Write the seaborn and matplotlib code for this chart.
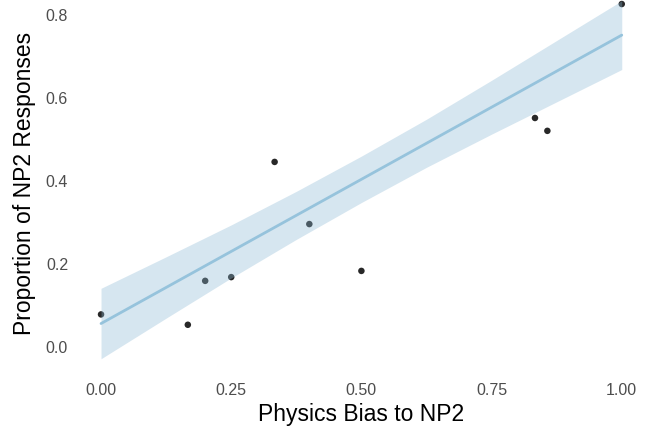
import numpy as np
import pandas as pd
import seaborn as sns
import matplotlib.pyplot as plt

# observed proportions
bias = [0.0, 1/6, 0.2, 0.25, 1/3, 0.4, 0.5, 5/6, 6/7, 1.0]
prop_np2 = [0.078, 0.053, 0.159, 0.168, 0.446, 0.296, 0.183, 0.552, 0.521, 0.827]

# model fit and confidence band
fit_x = [0.0, 0.125, 0.25, 0.375, 0.5, 0.625, 0.75, 0.875, 1.0]
fit_y = [0.056, 0.143, 0.230, 0.317, 0.404, 0.491, 0.578, 0.665, 0.752]
fit_lo = [-0.029, 0.069, 0.166, 0.259, 0.348, 0.433, 0.513, 0.591, 0.669]
fit_hi = [0.141, 0.217, 0.294, 0.375, 0.460, 0.549, 0.643, 0.739, 0.835]

x_ticks = [0.0, 0.25, 0.5, 0.75, 1.0]
y_ticks = [0.0, 0.2, 0.4, 0.6, 0.8]

sns.set_style("white")
plt.rcParams['font.family'] = ['Liberation Sans', 'DejaVu Sans']

points = pd.DataFrame({"bias": bias, "prop": prop_np2})
fit = pd.DataFrame({"x": fit_x, "y": fit_y, "lo": fit_lo, "hi": fit_hi})

fig = plt.figure(figsize=(6.46, 4.29), dpi=100)
ax = fig.add_axes([75 / 646, 1 - 371.6 / 429, 572.8 / 646, 377.1 / 429])

sns.scatterplot(data=points, x="bias", y="prop", color="#282828", s=22,
                edgecolor="none", ax=ax, zorder=1)
ax.fill_between(fit["x"], fit["lo"], fit["hi"], color="#8bb8d4", alpha=0.35,
                linewidth=0, zorder=2)
sns.lineplot(data=fit, x="x", y="y", color="#96c3dc", linewidth=2, ax=ax, zorder=3)

ax.set_xlim(-0.05, 1.05)
ax.set_ylim(-0.06, 0.85)
ax.set_xticks(x_ticks)
ax.set_xticklabels([f"{t:.2f}" for t in x_ticks])
ax.set_yticks(y_ticks)
ax.set_yticklabels([f"{t:.1f}" for t in y_ticks])
ax.tick_params(axis="both", length=0, labelsize=11.5, labelcolor="#4d4d4d")
ax.tick_params(axis="x", pad=8)
ax.tick_params(axis="y", pad=5)

ax.set_xlabel("Physics Bias to NP2", fontsize=16.5, color="black", labelpad=4)
ax.set_ylabel("Proportion of NP2 Responses", fontsize=16.5, color="black", labelpad=7)
sns.despine(ax=ax, left=True, bottom=True)

fig.savefig("out.png", dpi=100)
